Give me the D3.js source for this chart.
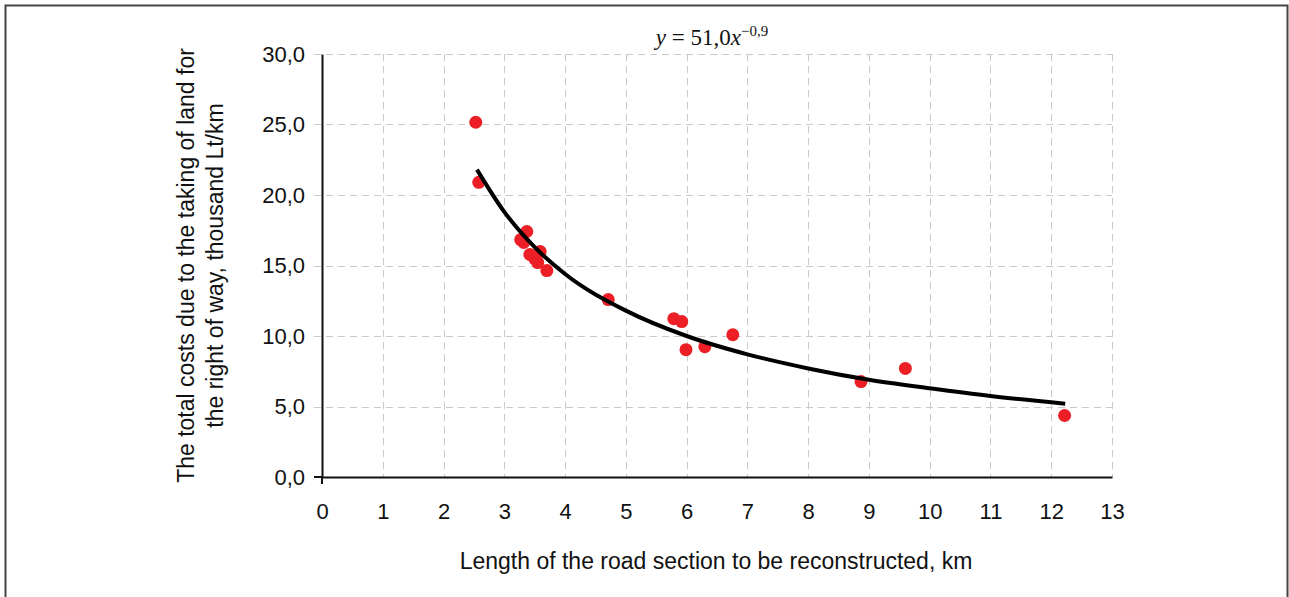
<!DOCTYPE html>
<html>
<head>
<meta charset="utf-8">
<script src="https://cdn.jsdelivr.net/npm/d3@7"></script>
<style>
  body { margin: 0; background: #fff; }
  svg { display: block; }
  .label { font-family: "Liberation Sans", Arial, sans-serif; font-size: 23px; fill: #111; }
</style>
</head>
<body>
<svg id="chart"></svg>
<script>
// measured points (x = length, km; y = costs, thousand Lt/km)
const lengthKm = [2.53, 2.58, 3.27, 3.37, 3.32, 3.42, 3.59, 3.50, 3.55, 3.70, 4.71, 5.79, 5.92, 5.99, 6.30, 6.76, 8.87, 9.60, 12.22];
const costs = [25.16, 20.9, 16.84, 17.41, 16.63, 15.78, 15.99, 15.49, 15.21, 14.64, 12.58, 11.23, 11.02, 9.03, 9.24, 10.09, 6.77, 7.70, 4.36];

// trend line
const trendX = [2.55, 3, 3.5, 4, 5, 6, 7, 8, 9, 10, 11, 12.23];
const trendY = [21.8, 18.8, 16.3, 14.4, 11.8, 10.0, 8.7, 7.7, 6.9, 6.3, 5.75, 5.2];

const xTicks = [0, 1, 2, 3, 4, 5, 6, 7, 8, 9, 10, 11, 12, 13];
const yTicks = [0, 5, 10, 15, 20, 25, 30];

const width = 1289;
const height = 597;
const margin = { left: 322, right: 177, top: 54, bottom: 120 };

const svg = d3.select('#chart')
  .attr('width', width)
  .attr('height', height);

// frame
svg.append('path')
  .attr('d', `M5.5,${height} V5.5 H1287.5 V${height}`)
  .attr('fill', 'none')
  .attr('stroke', '#444')
  .attr('stroke-width', 2);

const x = d3.scaleLinear()
  .domain([0, 13])
  .range([margin.left, width - margin.right]);

const y = d3.scaleLinear()
  .domain([0, 30])
  .range([height - margin.bottom, margin.top]);

// grid
const grid = svg.append('g')
  .attr('stroke', '#c9c9c9')
  .attr('stroke-width', 1)
  .attr('stroke-dasharray', '7,5');

grid.selectAll('line.h')
  .data(yTicks.filter(d => d > 0))
  .enter()
  .append('line')
  .attr('class', 'h')
  .attr('x1', x(0) - 8)
  .attr('x2', x(13))
  .attr('y1', d => Math.round(y(d)) + 0.5)
  .attr('y2', d => Math.round(y(d)) + 0.5);

grid.selectAll('line.v')
  .data(xTicks.filter(d => d > 0))
  .enter()
  .append('line')
  .attr('class', 'v')
  .attr('x1', d => Math.round(x(d)) + 0.5)
  .attr('x2', d => Math.round(x(d)) + 0.5)
  .attr('y1', y(30))
  .attr('y2', y(0));

// axes
const xAxis = svg.append('g')
  .attr('transform', `translate(0, ${y(0)})`)
  .call(d3.axisBottom(x).tickValues(xTicks).tickSize(0).tickPadding(26));
xAxis.select('.domain').attr('stroke', '#111').attr('stroke-width', 2);

const yAxis = svg.append('g')
  .attr('transform', `translate(${x(0)}, 0)`)
  .call(d3.axisLeft(y).tickValues(yTicks).tickSize(0).tickPadding(17)
    .tickFormat(d => d3.format('.1f')(d).replace('.', ',')));
yAxis.select('.domain').attr('stroke', '#111').attr('stroke-width', 2);

[xAxis, yAxis].forEach(a => a
  .attr('font-family', '"Liberation Sans", Arial, sans-serif')
  .attr('font-size', 22)
  .selectAll('text').attr('fill', '#111'));

// corner ticks at origin
svg.append('line')
  .attr('x1', x(0) - 8).attr('x2', x(0))
  .attr('y1', y(0)).attr('y2', y(0))
  .attr('stroke', '#111').attr('stroke-width', 2);
svg.append('line')
  .attr('x1', x(0)).attr('x2', x(0))
  .attr('y1', y(0)).attr('y2', y(0) + 7)
  .attr('stroke', '#111').attr('stroke-width', 2);

// points
svg.append('g')
  .selectAll('circle')
  .data(lengthKm.map((d, i) => [d, costs[i]]))
  .enter()
  .append('circle')
  .attr('cx', d => x(d[0]))
  .attr('cy', d => y(d[1]))
  .attr('r', 6.5)
  .attr('fill', '#ec1f26');

// trend
const line = d3.line()
  .x(d => x(d[0]))
  .y(d => y(d[1]))
  .curve(d3.curveMonotoneX);

svg.append('path')
  .datum(trendX.map((d, i) => [d, trendY[i]]))
  .attr('d', line)
  .attr('fill', 'none')
  .attr('stroke', '#000')
  .attr('stroke-width', 4);

// equation
const eq = svg.append('text')
  .attr('x', 712)
  .attr('y', 45)
  .attr('text-anchor', 'middle')
  .style('font-family', '"Liberation Serif", "Times New Roman", serif')
  .style('font-size', '23px')
  .attr('fill', '#111');
eq.append('tspan').style('font-style', 'italic').text('y');
eq.append('tspan').text(' = 51,0');
eq.append('tspan').style('font-style', 'italic').text('x');
eq.append('tspan').attr('dy', -9).style('font-size', '15px').text('−0,9');

// axis titles
svg.append('text')
  .attr('class', 'label')
  .attr('x', 716)
  .attr('y', 569)
  .attr('text-anchor', 'middle')
  .text('Length of the road section to be reconstructed, km');

const yTitle = svg.append('text')
  .attr('class', 'label')
  .attr('transform', `translate(194, ${(y(0) + y(30)) / 2}) rotate(-90)`)
  .attr('text-anchor', 'middle');
yTitle.append('tspan').attr('x', 0).attr('dy', 0)
  .text('The total costs due to the taking of land for');
yTitle.append('tspan').attr('x', 0).attr('dy', 29)
  .text('the right of way, thousand Lt/km');
</script>
</body>
</html>
